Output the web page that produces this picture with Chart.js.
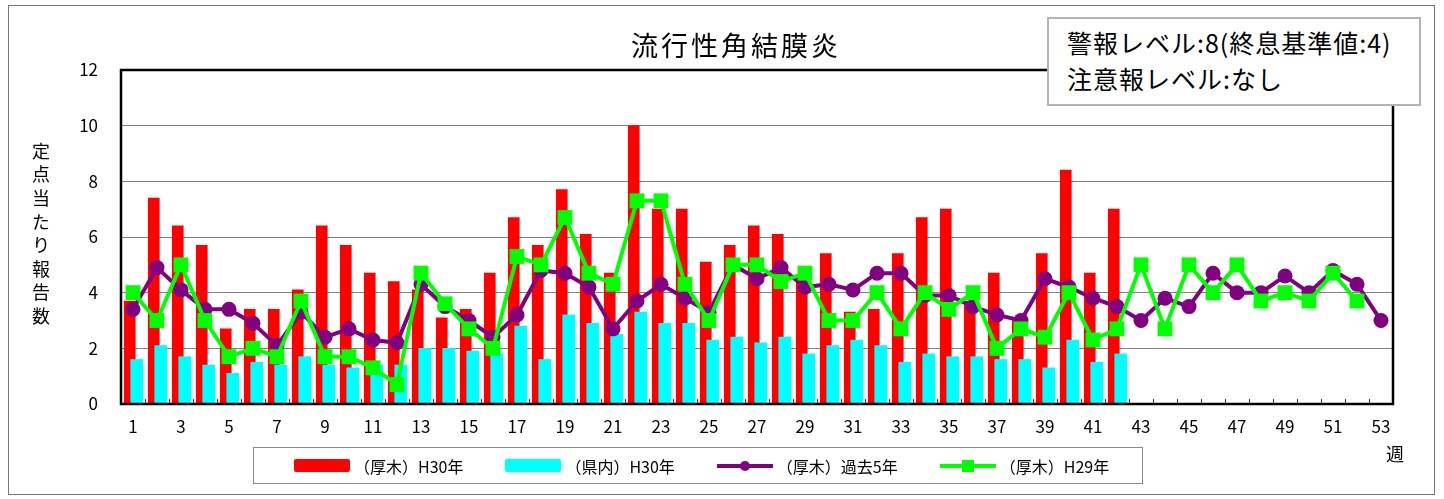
<!DOCTYPE html>
<html lang="ja">
<head>
<meta charset="utf-8">
<title>流行性角結膜炎</title>
<script src="https://cdn.jsdelivr.net/npm/chart.js@4.4.1/dist/chart.umd.min.js"></script>
<style>
  html,body{margin:0;padding:0;background:#fff;}
  body{width:1444px;height:499px;position:relative;overflow:hidden;font-family:"Noto Sans CJK JP","Noto Sans",sans-serif;color:#000;}
  #frame{position:absolute;left:8px;top:5px;width:1427px;height:490px;border:1px solid #777;box-sizing:border-box;}
  #chart{position:absolute;left:0;top:0;}
  #title{position:absolute;left:631px;top:31px;font-size:27px;line-height:27px;letter-spacing:3px;white-space:nowrap;}
  #ytitle{position:absolute;left:32px;top:142px;font-size:18px;line-height:18px;letter-spacing:5.6px;writing-mode:vertical-rl;text-orientation:upright;}
  #note{position:absolute;left:1047px;top:17px;width:374px;height:89px;box-sizing:border-box;border:2px solid #b4b4b4;background:#fff;
        padding:5px 0 0 18px;font-size:25px;line-height:36px;letter-spacing:1px;white-space:nowrap;}
  #xunit{position:absolute;left:1386px;top:443px;font-size:18px;line-height:20px;}
  #legend{position:absolute;left:253px;top:447px;width:890px;height:37px;box-sizing:border-box;border:1px solid #8a8a8a;
          display:flex;align-items:center;gap:42px;padding-left:40px;font-size:16px;white-space:nowrap;}
  .item{display:flex;align-items:center;}
  .sw{position:relative;width:56px;height:14px;margin-right:4px;}
  .sw .bar{position:absolute;left:0;top:0;width:56px;height:13px;border-radius:2px;}
  .sw .ln{position:absolute;left:0;top:5px;width:56px;height:4px;}
  .sw .mk{position:absolute;}
</style>
</head>
<body>
<div id="frame"></div>
<canvas id="chart" width="1444" height="499"></canvas>
<div id="title">流行性角結膜炎</div>
<div id="ytitle">定点当たり報告数</div>
<div id="note">警報レベル:8(終息基準値:4)<br>注意報レベル:なし</div>
<div id="xunit">週</div>
<div id="legend"></div>
<script>
// 週 (categories)
const WEEKS = [1,2,3,4,5,6,7,8,9,10,11,12,13,14,15,16,17,18,19,20,21,22,23,24,25,26,27,
  28,29,30,31,32,33,34,35,36,37,38,39,40,41,42,43,44,45,46,47,48,49,50,51,52,53];
const X_TICKS = [1,3,5,7,9,11,13,15,17,19,21,23,25,27,29,31,33,35,37,39,41,43,45,47,49,51,53];
const Y_TICKS = [0,2,4,6,8,10,12];

// (厚木)H30年
const ATSUGI_H30 = [3.7,7.4,6.4,5.7,2.7,3.4,3.4,4.1,6.4,5.7,4.7,4.4,4.1,3.1,3.4,4.7,6.7,5.7,7.7,6.1,
  4.7,10.0,7.0,7.0,5.1,5.7,6.4,6.1,4.6,5.4,3.3,3.4,5.4,6.7,7.0,3.7,4.7,3.0,5.4,8.4,4.7,7.0];
// (県内)H30年
const PREF_H30 = [1.6,2.1,1.7,1.4,1.1,1.5,1.4,1.7,1.4,1.3,1.4,1.4,2.0,2.0,1.9,1.8,2.8,1.6,3.2,2.9,
  2.5,3.3,2.9,2.9,2.3,2.4,2.2,2.4,1.8,2.1,2.3,2.1,1.5,1.8,1.7,1.7,1.6,1.6,1.3,2.3,1.5,1.8];
// (厚木)過去5年
const ATSUGI_5Y = [3.4,4.9,4.1,3.4,3.4,2.9,2.1,3.3,2.4,2.7,2.3,2.2,4.3,3.5,3.0,2.4,3.2,4.8,4.7,4.2,
  2.7,3.7,4.3,3.8,3.3,5.0,4.5,4.9,4.2,4.3,4.1,4.7,4.7,3.9,3.9,3.5,3.2,3.0,4.5,4.2,
  3.8,3.5,3.0,3.8,3.5,4.7,4.0,4.0,4.6,4.0,4.8,4.3,3.0];
// (厚木)H29年
const ATSUGI_H29 = [4.0,3.0,5.0,3.0,1.7,2.0,1.7,3.7,1.7,1.7,1.3,0.7,4.7,3.6,2.7,2.0,5.3,5.0,6.7,4.7,
  4.3,7.3,7.3,4.3,3.0,5.0,5.0,4.4,4.7,3.0,3.0,4.0,2.7,4.0,3.4,4.0,2.0,2.7,2.4,4.0,
  2.3,2.7,5.0,2.7,5.0,4.0,5.0,3.7,4.0,3.7,4.7,3.7];

// bars overlap a little like the original, red a bit left, cyan a bit right
const RED_SHIFT = -0.135, CYAN_SHIFT = 0.155;
function pts(vals, shift){ return vals.map((v,i)=>({x: WEEKS[i] + shift, y: v})); }

Chart.defaults.font.family = '"Noto Sans CJK JP","Noto Sans",sans-serif';
Chart.defaults.color = '#000';

// plot frame + small inward ticks on the week axis
const plotFrame = {
  id: 'plotFrame',
  afterDatasetsDraw(chart){
    const {ctx, chartArea:a, scales:{x}} = chart;
    ctx.save();
    ctx.strokeStyle = '#333';
    ctx.lineWidth = 1;
    ctx.beginPath();
    for(let k=0;k<=WEEKS.length;k++){
      const px = Math.round(x.getPixelForValue(k + 0.5)) + 0.5;
      ctx.moveTo(px, a.bottom); ctx.lineTo(px, a.bottom - 5);
    }
    ctx.stroke();
    ctx.strokeStyle = '#000';
    ctx.lineWidth = 2.5;
    ctx.strokeRect(a.left, a.top, a.right - a.left, a.bottom - a.top);
    ctx.restore();
  }
};

const chart = new Chart(document.getElementById('chart'), {
  type: 'bar',
  data: {
    datasets: [
      {type:'bar', label:'（厚木）H30年', data: pts(ATSUGI_H30, RED_SHIFT), backgroundColor:'#ff0000',
        barThickness:11, grouped:false, order:4},
      {type:'bar', label:'（県内）H30年', data: pts(PREF_H30, CYAN_SHIFT), backgroundColor:'#00ffff',
        barThickness:12, grouped:false, order:3},
      {type:'line', label:'（厚木）過去5年', data: pts(ATSUGI_5Y, 0), borderColor:'#800080', backgroundColor:'#800080',
        borderWidth:4, pointStyle:'circle', pointRadius:7.5, pointBorderWidth:0, tension:0, order:2},
      {type:'line', label:'（厚木）H29年', data: pts(ATSUGI_H29, 0), borderColor:'#00ff00', backgroundColor:'#00ff00',
        borderWidth:4, pointStyle:'rect', pointRadius:10.5, pointBorderWidth:0, tension:0, order:1}
    ]
  },
  options: {
    responsive: false,
    animation: false,
    layout: { padding: {left:0, right:51, top:70, bottom:55} },
    plugins: { legend:{display:false}, tooltip:{enabled:false}, title:{display:false} },
    scales: {
      x: {
        type:'linear', min:0.5, max:53.5, offset:false,
        afterFit: s => { s.height = 40; },
        afterBuildTicks: s => { s.ticks = X_TICKS.map(v => ({value:v})); },
        grid: {display:false, drawTicks:false, offset:false},
        border: {display:false},
        ticks: {autoSkip:false, maxRotation:0, padding:12, font:{size:17}, color:'#000'}
      },
      y: {
        min:0, max:12,
        afterFit: s => { s.width = 121; },
        afterBuildTicks: s => { s.ticks = Y_TICKS.map(v => ({value:v})); },
        grid: {color:'#808080', lineWidth:1, drawTicks:false},
        border: {display:false},
        ticks: {padding:23, font:{size:17}, color:'#000'}
      }
    }
  },
  plugins: [plotFrame]
});

// legend built from the chart's datasets
const legendEl = document.getElementById('legend');
const LEGEND_ORDER = [0,1,2,3];
LEGEND_ORDER.forEach(i => {
  const ds = chart.data.datasets[i];
  const item = document.createElement('div');
  item.className = 'item';
  const sw = document.createElement('div');
  sw.className = 'sw';
  if(ds.type === 'bar'){
    sw.innerHTML = `<div class="bar" style="background:${ds.backgroundColor}"></div>`;
  }else{
    const sq = ds.pointStyle === 'rect';
    const size = sq ? 12 : 10;
    sw.innerHTML = `<div class="ln" style="background:${ds.borderColor}"></div>` +
      `<div class="mk" style="width:${size}px;height:${size}px;left:${28-size/2}px;top:${7-size/2}px;` +
      `background:${ds.borderColor};border-radius:${sq?0:50}%"></div>`;
  }
  const txt = document.createElement('span');
  txt.textContent = ds.label;
  item.appendChild(sw); item.appendChild(txt);
  legendEl.appendChild(item);
});
</script>
</body>
</html>
